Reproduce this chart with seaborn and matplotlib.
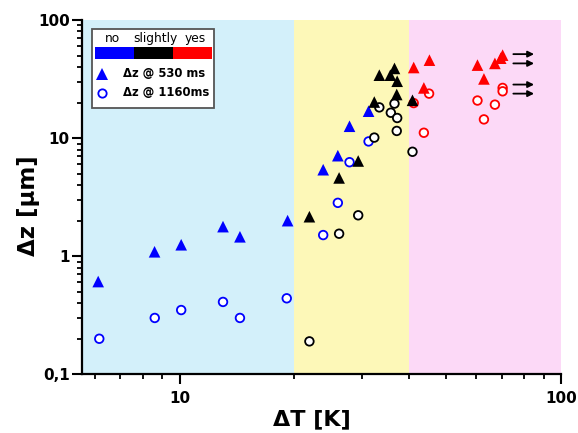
import numpy as np
import pandas as pd
import matplotlib
matplotlib.use("Agg")
import matplotlib.pyplot as plt
import seaborn as sns
from matplotlib.patches import Rectangle
from matplotlib.ticker import LogLocator, NullFormatter

# ---- data ----
tri_no_x = [6.12, 8.6, 10.1, 13.0, 14.4, 19.2, 23.8, 26.0, 27.9, 31.3]
tri_no_y = [0.61, 1.09, 1.25, 1.78, 1.46, 2.0, 5.4, 7.1, 12.6, 16.9]
tri_sl_x = [21.9, 26.2, 29.4, 32.4, 33.4, 35.7, 36.6, 37.2, 37.1, 40.8]
tri_sl_y = [2.16, 4.6, 6.4, 20.2, 34.1, 34.1, 38.9, 30.3, 23.4, 20.9]
tri_yes_x = [41.1, 43.7, 45.2, 60.4, 62.8, 67.1, 70.3, 69.5]
tri_yes_y = [39.6, 26.6, 45.7, 41.5, 31.7, 42.9, 50.4, 47.5]

cir_no_x = [6.16, 8.61, 10.1, 13.0, 14.4, 19.1, 23.8, 26.0, 27.9, 31.3]
cir_no_y = [0.20, 0.30, 0.35, 0.41, 0.30, 0.44, 1.51, 2.83, 6.25, 9.37]
cir_sl_x = [21.9, 26.2, 29.4, 32.4, 33.4, 36.6, 35.8, 37.2, 37.1, 40.8]
cir_sl_y = [0.19, 1.55, 2.22, 10.1, 18.2, 19.6, 16.4, 14.8, 11.5, 7.66]
cir_yes_x = [41.1, 43.7, 45.1, 60.4, 62.8, 67.1, 70.3, 70.3]
cir_yes_y = [19.8, 11.1, 23.8, 20.8, 14.4, 19.2, 26.6, 24.9]

categories = ["no", "slightly", "yes"]
cat_colors = {"no": "#0000ff", "slightly": "#000000", "yes": "#ff0000"}
region_edges = [5.54, 20, 40, 100]
region_colors = ["#d3f0fa", "#fdf8b8", "#fcd9f7"]
arrow_y = [51.4, 42.9, 28.4, 23.8]
arrow_x = (75.0, 85.0)
yticks = [0.1, 1, 10, 100]
ytick_labels = ["0,1", "1", "10", "100"]
xticks = [10, 100]
xtick_labels = ["10", "100"]
legend_labels = ["\u0394z @ 530 ms", "\u0394z @ 1160ms"]

tri = pd.DataFrame({
    "dT": tri_no_x + tri_sl_x + tri_yes_x,
    "dz": tri_no_y + tri_sl_y + tri_yes_y,
    "cat": ["no"] * len(tri_no_x) + ["slightly"] * len(tri_sl_x) + ["yes"] * len(tri_yes_x),
})
cir = pd.DataFrame({
    "dT": cir_no_x + cir_sl_x + cir_yes_x,
    "dz": cir_no_y + cir_sl_y + cir_yes_y,
    "cat": ["no"] * len(cir_no_x) + ["slightly"] * len(cir_sl_x) + ["yes"] * len(cir_yes_x),
})

sns.set_style("ticks")
plt.rcParams["font.family"] = ["DejaVu Sans"]
plt.rcParams["text.color"] = "black"
plt.rcParams["axes.labelcolor"] = "black"
plt.rcParams["xtick.color"] = "black"
plt.rcParams["ytick.color"] = "black"

fig = plt.figure(figsize=(5.78, 4.33), dpi=100)
ax = fig.add_axes([81.7 / 578, (433 - 374.3) / 433, 479.3 / 578, 354.3 / 433])
ax.set_xscale("log")
ax.set_yscale("log")

for i, c in enumerate(region_colors):
    ax.axvspan(region_edges[i], region_edges[i + 1], color=c, lw=0, zorder=0)

sns.scatterplot(data=cir, x="dT", y="dz", hue="cat", palette=cat_colors,
                hue_order=categories, marker="o", s=38, linewidth=1.3,
                legend=False, ax=ax, zorder=3)
coll = ax.collections[-1]
fc = coll.get_facecolors()
coll.set_edgecolors(fc)
coll.set_facecolors("white")

sns.scatterplot(data=tri, x="dT", y="dz", hue="cat", palette=cat_colors,
                hue_order=categories, marker="^", s=70, linewidth=0,
                legend=False, ax=ax, zorder=4)

for yv in arrow_y:
    ax.annotate("", xy=(arrow_x[1], yv), xytext=(arrow_x[0], yv),
                arrowprops=dict(arrowstyle="-|>", color="black", lw=1.3,
                                mutation_scale=9, shrinkA=0, shrinkB=0))

ax.set_xlim(region_edges[0], region_edges[-1])
ax.set_ylim(0.1, 100)
ax.set_yticks(yticks)
ax.set_yticklabels(ytick_labels)
ax.set_xticks(xticks)
ax.set_xticklabels(xtick_labels)
ax.xaxis.set_minor_locator(LogLocator(base=10, subs=np.arange(2, 10)))
ax.yaxis.set_minor_locator(LogLocator(base=10, subs=np.arange(2, 10)))
ax.xaxis.set_minor_formatter(NullFormatter())
ax.yaxis.set_minor_formatter(NullFormatter())
for lab in ax.get_xticklabels() + ax.get_yticklabels():
    lab.set_fontweight("bold")
    lab.set_fontsize(11)
ax.tick_params(which="major", length=7, width=1.5, direction="out", color="black")
ax.tick_params(axis="x", which="major", pad=5)
ax.tick_params(axis="y", which="major", pad=1.5)
ax.tick_params(which="minor", length=3.5, width=1.3, direction="out", color="black")
sns.despine(ax=ax)
for s in ["left", "bottom"]:
    ax.spines[s].set_linewidth(1.6)
    ax.spines[s].set_color("black")

ax.set_xlabel("\u0394T [K]", fontsize=16, fontweight="bold")
ax.set_ylabel("\u0394z [\u00b5m]", fontsize=16.5, fontweight="bold")
ax.xaxis.set_label_coords(0.4805, -0.100)
ax.yaxis.set_label_coords(-0.0860, 0.475)

# ---- custom legend ----
T = ax.transAxes
ax.add_patch(Rectangle((0.0221, 0.7508), 0.276 - 0.0221, 0.9737 - 0.7508, transform=T,
                       facecolor="white", edgecolor="#555555", lw=1.3, zorder=10))
bar_x = [0.0277, 0.1085, 0.1905, 0.2719]
for i, cat in enumerate(categories):
    ax.add_patch(Rectangle((bar_x[i], 0.8899), bar_x[i + 1] - bar_x[i], 0.9229 - 0.8899,
                           transform=T, facecolor=cat_colors[cat], lw=0, zorder=11))
for cat, xx in zip(categories, [0.0638, 0.1529, 0.2378]):
    ax.text(xx, 0.9484, cat, transform=T, ha="center", va="center", fontsize=8.8, zorder=11)
ax.plot([0.0417], [0.8476], marker="^", ms=8, color=cat_colors["no"], mew=0,
        transform=T, zorder=11, clip_on=False)
ax.plot([0.0417], [0.7948], marker="o", ms=6, mfc="white", mec=cat_colors["no"], mew=1.3,
        transform=T, zorder=11, clip_on=False)
ax.text(0.0855, 0.8476, legend_labels[0], transform=T, va="center", ha="left",
        fontsize=8.4, fontweight="bold", zorder=11)
ax.text(0.0855, 0.7948, legend_labels[1], transform=T, va="center", ha="left",
        fontsize=8.4, fontweight="bold", zorder=11)

fig.savefig("out.png", dpi=100)
